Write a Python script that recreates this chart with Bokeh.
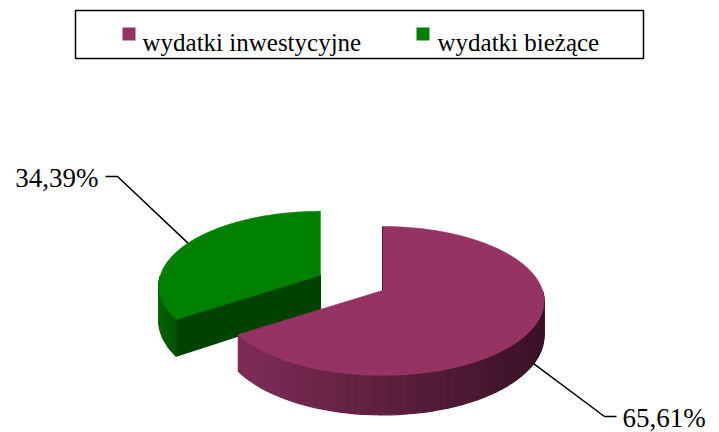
import numpy as np
from bokeh.plotting import figure
from bokeh.models import Range1d
from bokeh.core.properties import value
from bokeh.embed import file_html
from bokeh.resources import INLINE

# ---- data ----
categories = ["wydatki inwestycyjne", "wydatki bieżące"]
shares = [65.61, 34.39]
explode = [0.0, 0.44]

# ---- styles ----
top_colors = ["#953363", "#008000"]
wall_light = ["#7e2c56", "#006400"]
wall_dark = ["#3a1226", "#005400"]
cut_colors = ["#4a1a33", "#004200"]
FONT = value("Liberation Serif")

# ---- geometry (layout constants, page pixel coords) ----
CX, CY = 382.0, 290.0      # pie centre
A, B = 160.0, 73.0         # horizontal / vertical radii
K = 0.14                   # perspective factor
D = 34.0                   # thickness


def rim(ax, ay, t):
    s = 1.0 / (1.0 + K * np.sin(t))
    return ax + A * np.cos(t) * s, ay - B * np.sin(t) * s, D * s


def hex2rgb(h):
    h = h.lstrip("#")
    return np.array([int(h[i:i + 2], 16) for i in (0, 2, 4)], dtype=float)


def mix(c1, c2, f):
    c = hex2rgb(c1) * (1 - f) + hex2rgb(c2) * f
    return "#%02x%02x%02x" % tuple(int(round(v)) for v in c)


p = figure(width=719, height=432, x_range=Range1d(0, 719), y_range=Range1d(432, 0),
           output_backend="svg", toolbar_location=None, min_border=0,
           x_axis_type=None, y_axis_type=None)
p.grid.visible = False
p.outline_line_color = None
p.background_fill_color = "white"
p.border_fill_color = "white"

# slice angles (clockwise from 12 o'clock)
slices = []
cum = 0.0
for i, sh in enumerate(shares):
    sweep = 2 * np.pi * sh / 100.0
    t0 = np.pi / 2 - cum
    t1 = t0 - sweep
    mid = (t0 + t1) / 2
    ax = CX + explode[i] * A * np.cos(mid)
    ay = CY - explode[i] * B * np.sin(mid)
    slices.append(dict(i=i, t0=t0, t1=t1, mid=mid, ax=ax, ay=ay))
    cum += sweep

# draw back slices first
for sl in sorted(slices, key=lambda s: s["ay"]):
    i, t0, t1, ax, ay = sl["i"], sl["t0"], sl["t1"], sl["ax"], sl["ay"]
    xs_poly, ys_poly, cols = [], [], []
    # cut faces
    for t, vis in ((t0, np.cos(t0) < -1e-6), (t1, np.cos(t1) > 1e-6)):
        if vis:
            rx, ry, rd = rim(ax, ay, t)
            xs_poly.append([ax, rx, rx, ax])
            ys_poly.append([ay, ry, ry + rd, ay + D])
            cols.append(cut_colors[i])
    # outer wall
    ts = np.linspace(t1, t0, 90)
    segs = []
    for a, b in zip(ts[:-1], ts[1:]):
        if np.sin((a + b) / 2) < 0:
            segs.append((a, b))
    if segs:
        xall = [rim(ax, ay, a)[0] for a, _ in segs] + [rim(ax, ay, segs[-1][1])[0]]
        xmin, xmax = min(xall), max(xall)
        for a, b in segs:
            x1, y1, d1 = rim(ax, ay, a)
            x2, y2, d2 = rim(ax, ay, b)
            f = ((x1 + x2) / 2 - xmin) / max(xmax - xmin, 1e-6)
            xs_poly.append([x1, x2, x2, x1])
            ys_poly.append([y1, y2, y2 + d2, y1 + d1])
            cols.append(mix(wall_light[i], wall_dark[i], f))
    if xs_poly:
        p.patches(xs_poly, ys_poly, fill_color=cols, line_color=cols, line_width=1.2)
    # top face
    tt = np.linspace(t0, t1, 200)
    rx, ry, _ = rim(ax, ay, tt)
    p.patch(np.concatenate([[ax], rx]), np.concatenate([[ay], ry]),
            fill_color=top_colors[i], line_color=top_colors[i], line_width=0.6)
    if abs(np.cos(t0)) < 1e-6 and i == 0:
        tx, ty, _ = rim(ax, ay, t0)
        p.line([ax, tx], [ay, ty], line_color=cut_colors[i], line_width=1)

# ---- data labels with leader lines ----
labels = [("%.2f%%" % v).replace(".", ",") for v in shares]
# (elbow x, elbow y, end x, text x, text align)
label_layout = {0: (604, 416, 616, 622, "left"), 1: (117, 176, 105, 98, "right")}
for sl in slices:
    i = sl["i"]
    sx, sy, sd = rim(sl["ax"], sl["ay"], sl["mid"])
    if np.sin(sl["mid"]) < 0:
        sy = sy + sd
    ex, ey, endx, tx, align = label_layout[i]
    p.line([sx, ex, endx], [sy, ey, ey], line_color="black", line_width=1.5)
    p.text(x=[tx], y=[ey + 1], text=[labels[i]], text_font=FONT, text_font_size="27px",
           text_align=align, text_baseline="alphabetic", text_color="black")

# ---- legend ----
p.quad(left=[75], right=[643], top=[10], bottom=[58], fill_color=None,
       line_color="black", line_width=1.5)
sw_x = [122, 416]
tx_x = [142, 437]
p.quad(left=sw_x, right=[x + 13 for x in sw_x], top=[27, 27], bottom=[40, 40],
       fill_color=top_colors, line_color=None)
p.text(x=tx_x, y=[42, 42], text=categories, text_font=FONT, text_font_size="25px",
       text_align="left", text_baseline="alphabetic", text_color="black")

open("out.html", "w").write(file_html(p, INLINE))
